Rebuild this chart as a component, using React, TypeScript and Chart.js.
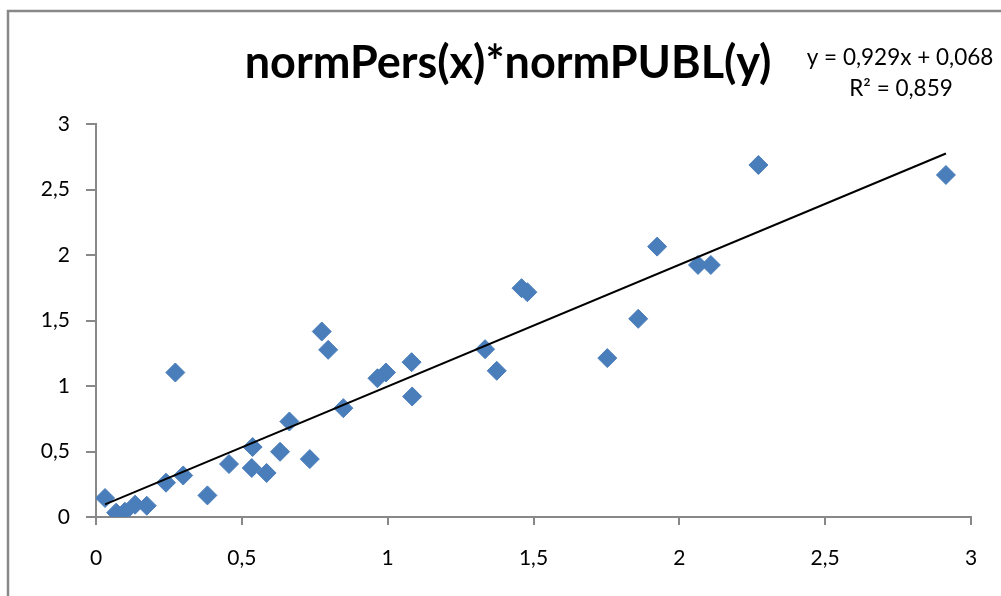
import { useEffect, useRef } from "react";
import { Chart, registerables } from "chart.js";

Chart.register(...registerables);

// normPers (x) values
const xValues = [
  0.031, 0.069, 0.099, 0.134, 0.174, 0.24, 0.272, 0.299, 0.382, 0.456,
  0.534, 0.537, 0.585, 0.631, 0.663, 0.733, 0.774, 0.796, 0.848, 0.965,
  0.994, 1.082, 1.084, 1.334, 1.374, 1.459, 1.479, 1.753, 1.859, 1.924,
  2.064, 2.108, 2.271, 2.914,
];
// normPUBL (y) values
const yValues = [
  0.145, 0.033, 0.04, 0.094, 0.086, 0.262, 1.103, 0.317, 0.165, 0.404,
  0.374, 0.534, 0.336, 0.498, 0.729, 0.442, 1.416, 1.276, 0.831, 1.059,
  1.103, 1.182, 0.92, 1.281, 1.116, 1.747, 1.716, 1.213, 1.513, 2.064,
  1.924, 1.924, 2.687, 2.611,
];
const trendSlope = 0.929;
const trendIntercept = 0.068;
const axisMin = 0;
const axisMax = 3;
const axisStep = 0.5;
const titleText = "normPers(x)*normPUBL(y)";
const equationLines = ["y = 0,929x + 0,068", "R² = 0,859"];

const FONT = "Lato, 'Open Sans', sans-serif";
const GREY = "#888888";
const BLUE = "#4A7EBB";

const fmt = (v: number | string) => String(v).replace(".", ",");

export default function App() {
  const ref = useRef<HTMLCanvasElement | null>(null);

  useEffect(() => {
    if (!ref.current) return;
    const points = xValues.map((x, i) => ({ x, y: yValues[i] }));
    const xMinData = Math.min(...xValues);
    const xMaxData = Math.max(...xValues);
    const trend = [
      { x: xMinData, y: trendSlope * xMinData + trendIntercept },
      { x: xMaxData, y: trendSlope * xMaxData + trendIntercept },
    ];

    const framePlugin = {
      id: "frame",
      beforeDraw(chart: any) {
        const ctx = chart.ctx;
        ctx.save();
        ctx.fillStyle = "#ffffff";
        ctx.fillRect(0, 0, chart.width, chart.height);
        ctx.strokeStyle = GREY;
        ctx.lineWidth = 2.5;
        ctx.beginPath();
        ctx.moveTo(8, chart.height + 5);
        ctx.lineTo(8, 11);
        ctx.lineTo(chart.width + 5, 11);
        ctx.stroke();
        ctx.restore();
      },
      afterDraw(chart: any) {
        const ctx = chart.ctx;
        ctx.save();
        ctx.fillStyle = "#000000";
        ctx.textAlign = "center";
        ctx.textBaseline = "middle";
        ctx.font = `bold 45px ${FONT}`;
        ctx.fillText(titleText, 508, 63);
        ctx.font = `22.5px ${FONT}`;
        ctx.fillText(equationLines[0], 900, 58);
        ctx.fillText(equationLines[1], 901, 89);
        ctx.restore();
      },
    };

    const chart = new Chart(ref.current, {
      type: "scatter",
      data: {
        datasets: [
          {
            type: "line",
            label: "trend",
            data: trend,
            borderColor: "#000000",
            borderWidth: 2,
            pointRadius: 0,
            showLine: true,
            fill: false,
            order: 0,
          } as any,
          {
            label: "data",
            data: points,
            pointStyle: "rectRot",
            pointRadius: 9.5,
            pointBackgroundColor: BLUE,
            pointBorderColor: BLUE,
            pointBorderWidth: 1,
            order: 1,
          },
        ],
      },
      options: {
        animation: false,
        responsive: false,
        maintainAspectRatio: false,
        layout: { padding: { left: 0, right: 30, top: 124, bottom: 0 } },
        plugins: {
          legend: { display: false },
          tooltip: { enabled: false },
          title: { display: false },
        },
        scales: {
          x: {
            type: "linear",
            min: axisMin,
            max: axisMax,
            afterFit: (s: any) => {
              s.height = 79;
            },
            ticks: {
              stepSize: axisStep,
              color: "#000000",
              font: { family: FONT, size: 21 },
              padding: 21,
              callback: (v: any) => fmt(v),
              maxRotation: 0,
            },
            grid: {
              display: true,
              drawOnChartArea: false,
              drawTicks: true,
              tickLength: 8,
              color: GREY,
              lineWidth: 2,
            },
            border: { display: true, color: GREY, width: 2 },
          },
          y: {
            type: "linear",
            min: axisMin,
            max: axisMax,
            afterFit: (s: any) => {
              s.width = 96;
            },
            ticks: {
              stepSize: axisStep,
              color: "#000000",
              font: { family: FONT, size: 21 },
              padding: 16,
              callback: (v: any) => fmt(v),
            },
            grid: {
              display: true,
              drawOnChartArea: false,
              drawTicks: true,
              tickLength: 10,
              color: GREY,
              lineWidth: 2,
            },
            border: { display: true, color: GREY, width: 2 },
          },
        },
      },
      plugins: [framePlugin],
    });
    return () => chart.destroy();
  }, []);

  return (
    <div style={{ position: "fixed", left: 0, top: 0, width: 1001, height: 596 }}>
      <canvas ref={ref} width={1001} height={596} style={{ width: 1001, height: 596 }} />
    </div>
  );
}
